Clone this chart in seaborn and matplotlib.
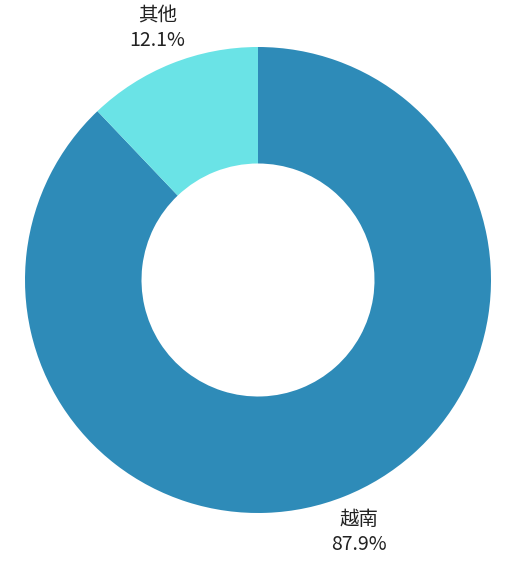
import numpy as np
import seaborn as sns
import matplotlib.pyplot as plt

categories = ["越南", "其他"]
shares = [87.9, 12.1]
colors = ["#2E8BB8", "#6AE3E6"]

sns.set_theme(style="white")
plt.rcParams['font.family'] = ['Noto Sans CJK SC', 'DejaVu Sans']

fig = plt.figure(figsize=(5.12, 5.63), dpi=100)
ax = fig.add_axes([0, 0, 1, 1])

cx, cy, R = 258, 283, 233
wedges, _ = ax.pie(shares, colors=colors, startangle=90, counterclock=False,
                   radius=R, center=(cx, cy), frame=True,
                   wedgeprops=dict(width=R * 0.5, linewidth=0))
ax.set_xlim(0, 512)
ax.set_ylim(0, 563)
ax.set_aspect("equal")
ax.axis("off")

# labels outside each wedge, name over percentage
for w, name, val in zip(wedges, categories, shares):
    mid = np.deg2rad((w.theta1 + w.theta2) / 2)
    lx = cx + R * 1.165 * np.cos(mid)
    ly = cy + R * 1.165 * np.sin(mid)
    ax.text(lx, ly, f"{name}\n{val:.1f}%", ha="center", va="center",
            fontsize=14, color="#222222", linespacing=1.2)

fig.savefig("out.png", dpi=100, facecolor="white")
